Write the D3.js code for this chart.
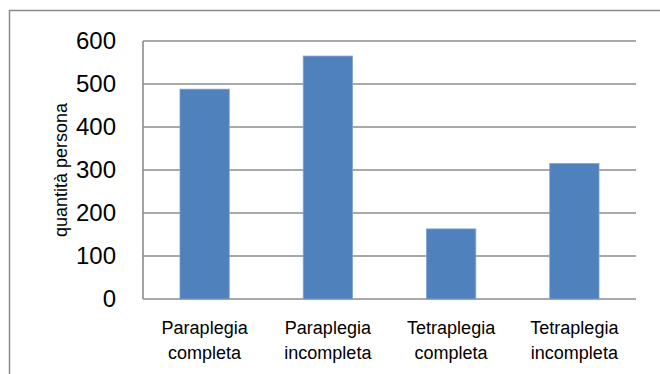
<!DOCTYPE html>
<html><head><meta charset="utf-8">
<script src="https://cdn.jsdelivr.net/npm/d3@7"></script>
<style>body{margin:0;background:#fff}svg{display:block}</style>
</head><body>
<svg id="c" width="660" height="374"></svg>
<script>
const categories = [["Paraplegia","completa"],["Paraplegia","incompleta"],["Tetraplegia","completa"],["Tetraplegia","incompleta"]];
const values = [488, 565, 163, 315];
const yTicks = [0,100,200,300,400,500,600];
const yTitle = "quantità persona";

const svg = d3.select("#c");
const m = {l:143, r:636, t:41, b:299};
const x = d3.scaleBand().domain(d3.range(categories.length)).range([m.l, m.r]).paddingInner(0.6).paddingOuter(0.3);
const y = d3.scaleLinear().domain([0,600]).range([m.b, m.t]);

// outer border
svg.append("rect").attr("x",9.5).attr("y",10.5).attr("width",700).attr("height",400)
  .attr("fill","none").attr("stroke","#8a8a8a").attr("stroke-width",1.5);

// gridlines
svg.append("g").selectAll("line").data(yTicks).join("line")
  .attr("x1",m.l).attr("x2",m.r).attr("y1",d=>y(d)).attr("y2",d=>y(d))
  .attr("stroke","#8c8c8c").attr("stroke-width",1.6);
// y axis line
svg.append("line").attr("x1",m.l).attr("x2",m.l).attr("y1",m.t).attr("y2",m.b)
  .attr("stroke","#8c8c8c").attr("stroke-width",1.6);

// bars
svg.append("g").selectAll("rect").data(values).join("rect")
  .attr("x",(d,i)=>x(i)).attr("width",x.bandwidth())
  .attr("y",d=>y(d)).attr("height",d=>y(0)-y(d))
  .attr("fill","#4F81BD").attr("stroke","#7FA3D3").attr("stroke-width",0.8);

// y tick labels
svg.append("g").selectAll("text").data(yTicks).join("text")
  .attr("x",116).attr("y",d=>y(d)).attr("dy","0.35em").attr("text-anchor","end")
  .attr("font-family","Liberation Sans, Arial, sans-serif").attr("font-size",24).attr("fill","#000")
  .text(d=>d);

// x labels
const xl = svg.append("g").selectAll("text").data(categories).join("text")
  .attr("text-anchor","middle").attr("font-family","Liberation Sans, Arial, sans-serif")
  .attr("font-size",18).attr("fill","#000");
xl.each(function(d,i){
  const t = d3.select(this);
  d.forEach((s,j)=>t.append("tspan").attr("x",x(i)+x.bandwidth()/2).attr("y",334+j*25).text(s));
});

// y title
svg.append("text").attr("transform","translate(67,170) rotate(-90)").attr("text-anchor","middle")
  .attr("font-family","Liberation Sans, Arial, sans-serif").attr("font-size",18).attr("fill","#000")
  .text(yTitle);
</script>
</body></html>
